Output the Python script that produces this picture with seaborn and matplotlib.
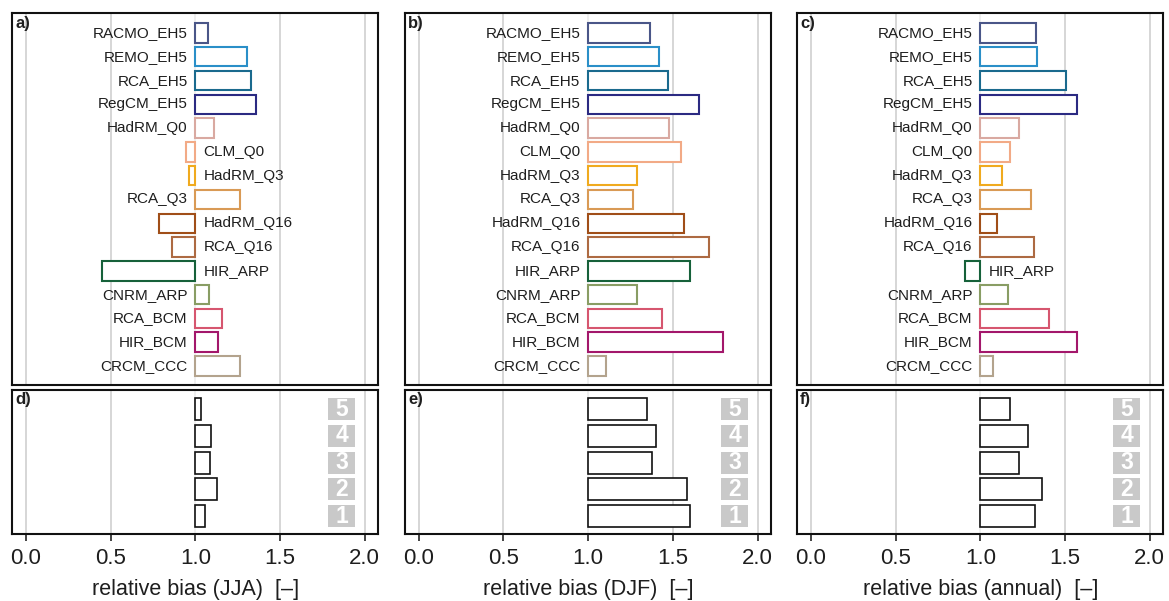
import matplotlib
matplotlib.use("Agg")
import matplotlib.pyplot as plt
import seaborn as sns
import pandas as pd
import numpy as np

# Regional climate model runs (top panels) and their relative bias per season
models = ["RACMO_EH5", "REMO_EH5", "RCA_EH5", "RegCM_EH5", "HadRM_Q0", "CLM_Q0",
          "HadRM_Q3", "RCA_Q3", "HadRM_Q16", "RCA_Q16", "HIR_ARP", "CNRM_ARP",
          "RCA_BCM", "HIR_BCM", "CRCM_CCC"]
model_colors = ["#4a5688", "#2a8fc8", "#1a6a8e", "#2b2a82", "#d9a9a1", "#f2aa86",
                "#f0aa1e", "#d99a55", "#a04e18", "#ad6a42", "#16613a", "#899d64",
                "#d6566f", "#a3176b", "#b3a38d"]

bias_jja = [1.075, 1.305, 1.327, 1.358, 1.112, 0.943, 0.963, 1.265, 0.786, 0.861,
            0.448, 1.081, 1.159, 1.136, 1.262]
bias_djf = [1.366, 1.416, 1.469, 1.652, 1.479, 1.550, 1.290, 1.264, 1.565, 1.713,
            1.601, 1.291, 1.435, 1.798, 1.106]
bias_ann = [1.328, 1.336, 1.505, 1.572, 1.226, 1.175, 1.126, 1.301, 1.100, 1.317,
            0.910, 1.163, 1.403, 1.570, 1.073]

# Ensemble groups 1-5 (bottom panels), drawn top-down as 5..1
groups = ["5", "4", "3", "2", "1"]
group_jja = [1.035, 1.091, 1.085, 1.128, 1.055]
group_djf = [1.349, 1.402, 1.380, 1.585, 1.601]
group_ann = [1.173, 1.281, 1.228, 1.362, 1.323]

season_labels = ["relative bias (JJA)  [\u2013]", "relative bias (DJF)  [\u2013]",
                 "relative bias (annual)  [\u2013]"]
top_letters = ["a)", "b)", "c)"]
bottom_letters = ["d)", "e)", "f)"]
x_ticks = [0.0, 0.5, 1.0, 1.5, 2.0]
x_ticklabels = ["0.0", "0.5", "1.0", "1.5", "2.0"]

REF = 1.0                 # bars start at a relative bias of one
BADGE_LEFT, BADGE_WIDTH = 1.785, 0.16
GRID = "#cbcbcb"
TEXT = "#1e1e1e"

sns.set_theme(style="white")
plt.rcParams["font.family"] = ["Liberation Sans", "DejaVu Sans"]

fig = plt.figure(figsize=(11.69, 6.01), dpi=100)
lefts = [0.0105, 0.3465, 0.6820]
width = 0.3131
top_box = (0.3594, 0.6190)
bot_box = (0.1115, 0.2396)


def style_axes(ax):
    ax.set_xlim(-0.08, 2.08)
    for s in ax.spines.values():
        s.set_visible(True)
        s.set_color("#111111")
        s.set_linewidth(1.5)
    for xv in x_ticks:
        ax.axvline(xv, color="#ebebeb" if xv == REF else GRID, lw=1.1, zorder=0)
    ax.set_ylabel("")
    ax.set_xlabel("")
    ax.tick_params(left=False, labelleft=False)


def outline_bars(ax, edgecolors=None, lw=1.5):
    for p in ax.patches:
        ec = p.get_facecolor() if edgecolors is None else edgecolors
        p.set_edgecolor(ec)
        p.set_facecolor("white")
        p.set_linewidth(lw)
        p.set_zorder(2)


top_series = [bias_jja, bias_djf, bias_ann]
bot_series = [group_jja, group_djf, group_ann]

for k in range(3):
    # --- top: individual models
    ax = fig.add_axes([lefts[k], top_box[0], width, top_box[1]])
    df = pd.DataFrame({"model": models, "bias": top_series[k]})
    df["dev"] = df["bias"] - REF
    sns.barplot(data=df, x="dev", y="model", hue="model", order=models,
                hue_order=models, palette=dict(zip(models, model_colors)),
                saturation=1, orient="y", left=REF, width=0.815, legend=False, ax=ax)
    outline_bars(ax, lw=1.5)
    style_axes(ax)
    ax.set_ylim(14.8, -0.84)
    ax.tick_params(bottom=False, labelbottom=False)
    for i, (m, v) in enumerate(zip(models, top_series[k])):
        if v >= REF:
            ax.annotate(m, xy=(REF, i), xytext=(-5.5, 0), textcoords="offset points",
                        ha="right", va="center", fontsize=11, color=TEXT)
        else:
            ax.annotate(m, xy=(REF, i), xytext=(5.8, 0), textcoords="offset points",
                        ha="left", va="center", fontsize=11, color=TEXT)
    ax.text(0.008, 0.993, top_letters[k], transform=ax.transAxes, ha="left", va="top",
            fontsize=12, fontweight="bold", color=TEXT)

    # --- bottom: ensemble groups
    axb = fig.add_axes([lefts[k], bot_box[0], width, bot_box[1]])
    dg = pd.DataFrame({"group": groups, "bias": bot_series[k]})
    dg["dev"] = dg["bias"] - REF
    sns.barplot(data=dg, x="dev", y="group", order=groups, orient="y", left=REF,
                width=0.82, color="white", ax=axb)
    outline_bars(axb, edgecolors="#111111", lw=1.2)
    # grey numbered badges at the right edge
    sns.barplot(x=[BADGE_WIDTH] * len(groups), y=groups, order=groups, orient="y",
                left=BADGE_LEFT, width=0.82, color="#c9c9c9", linewidth=0,
                saturation=1, ax=axb)
    for i, g in enumerate(groups):
        axb.text(BADGE_LEFT + BADGE_WIDTH / 2, i, g, ha="center", va="center",
                 fontsize=16.5, fontweight="bold", color="white", zorder=4)
    style_axes(axb)
    axb.set_ylim(4.67, -0.72)
    axb.set_xticks(x_ticks)
    axb.set_xticklabels(x_ticklabels)
    axb.tick_params(axis="x", bottom=True, labelbottom=True, length=5, width=1.1,
                    color="#111111", pad=5, labelsize=16, labelcolor=TEXT)
    axb.set_xlabel(season_labels[k], fontsize=15.5, color=TEXT, labelpad=7)
    axb.text(0.008, 0.985, bottom_letters[k], transform=axb.transAxes, ha="left",
             va="top", fontsize=12, fontweight="bold", color=TEXT)

fig.savefig("out.png", dpi=100)
